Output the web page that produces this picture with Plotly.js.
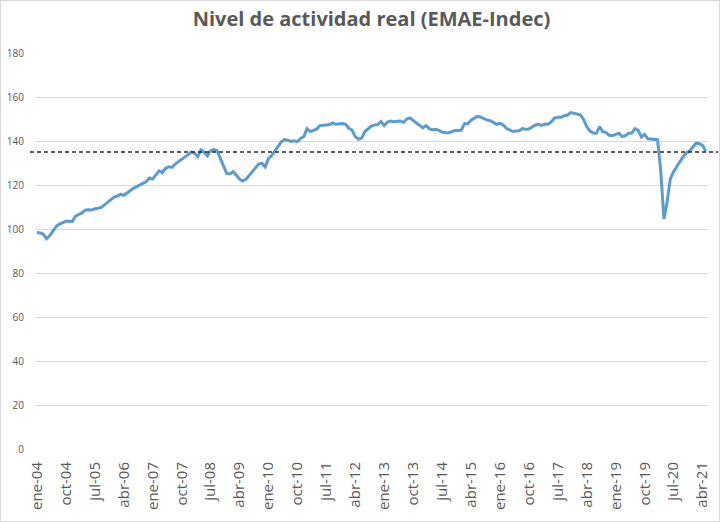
<!DOCTYPE html>
<html>
<head>
<meta charset="utf-8">
<script src="https://cdn.plot.ly/plotly-3.0.1.min.js"></script>
<style>
  html, body { margin: 0; padding: 0; background: #fff; }
  #wrap { position: relative; width: 720px; height: 522px; }
  #chart { width: 720px; height: 522px; }
  #frame { position: absolute; left: 0; top: 0; width: 720px; height: 522px; box-sizing: border-box; border: 1px solid #d9d9d9; pointer-events: none; }
</style>
</head>
<body>
<div id="wrap"><div id="chart"></div><div id="frame"></div></div>
<script>
// Month names (Spanish) and years covered
const monthNames = ['ene','feb','mar','abr','may','jun','jul','ago','sep','oct','nov','dic'];
const years = ['04','05','06','07','08','09','10','11','12','13','14','15','16','17','18','19','20','21'];

// EMAE (monthly, ene-04 .. may-21)
const emae = [
  98.4, 98.2, 97.6, 95.6, 97.0, 99.0, 101.2, 102.2, 102.8, 103.5, 103.5, 103.4,
  105.8, 106.4, 107.3, 108.6, 108.8, 108.6, 109.2, 109.4, 109.8, 111.0, 112.3, 113.6,
  114.5, 115.0, 115.8, 115.3, 116.2, 117.4, 118.5, 119.3, 120.2, 121.0, 121.6, 123.2,
  122.7, 124.6, 126.4, 125.6, 127.6, 128.3, 128.0, 129.5, 130.5, 131.5, 132.6, 133.8,
  135.0, 134.4, 132.9, 135.9, 134.9, 133.3, 135.6, 136.1, 135.7, 132.1, 129.3, 125.3,
  125.0, 126.0, 124.5, 122.7, 121.8, 122.6, 124.3, 126.0, 128.2, 129.6, 129.8, 128.2,
  132.0, 133.4, 135.5, 137.7, 139.6, 140.6, 140.4, 139.8, 140.1, 139.7, 141.2, 142.0,
  145.6, 144.3, 144.8, 145.4, 147.0, 147.3, 147.3, 147.5, 148.2, 147.6, 147.8, 147.9,
  147.6, 145.8, 145.0, 142.0, 140.8, 141.3, 144.3, 145.7, 146.8, 147.3, 147.5, 148.9,
  147.0, 148.6, 149.1, 148.8, 148.8, 149.1, 148.4, 150.0, 150.5, 149.2, 148.2, 147.2,
  146.0, 147.0, 145.6, 145.1, 145.3, 144.8, 144.1, 143.8, 143.8, 144.2, 144.8, 144.8,
  145.0, 147.9, 147.8, 149.5, 150.5, 151.2, 150.8, 150.0, 149.5, 149.2, 148.5, 147.6,
  148.0, 147.3, 145.8, 145.0, 144.3, 144.6, 144.7, 145.7, 145.3, 145.4, 146.5, 147.3,
  147.6, 147.1, 147.7, 147.6, 148.8, 150.5, 150.8, 150.8, 151.5, 151.8, 152.9, 152.6,
  152.3, 151.9, 149.8, 146.5, 144.5, 143.6, 143.5, 146.5, 144.2, 143.8, 142.6, 142.4,
  143.0, 143.5, 142.0, 142.4, 143.5, 143.6, 145.7, 144.8, 141.8, 143.0, 141.0, 140.9,
  140.9, 140.6, 126.5, 104.5, 112.5, 123.0, 126.0, 128.3, 130.8, 133.0, 134.6, 135.5,
  137.3, 139.0, 138.8, 138.0, 135.3
];

// Reference level (dashed line)
const referenceLevel = 135;

// Tick labels shown on the x axis
const tickLabels = ['ene-04','oct-04','jul-05','abr-06','ene-07','oct-07','jul-08','abr-09',
  'ene-10','oct-10','jul-11','abr-12','ene-13','oct-13','jul-14','abr-15','ene-16','oct-16',
  'jul-17','abr-18','ene-19','oct-19','jul-20','abr-21'];

// Build category list (one per month, matching emae length)
const categories = [];
for (const y of years) {
  for (const m of monthNames) {
    if (categories.length < emae.length) categories.push(m + '-' + y);
  }
}

const trace = {
  type: 'scatter',
  mode: 'lines',
  x: categories,
  y: emae,
  line: { color: '#5b9bd5', width: 3 },
  hoverinfo: 'x+y',
  showlegend: false
};

const layout = {
  width: 720,
  height: 522,
  margin: { l: 35, r: 12, t: 53, b: 73 },
  paper_bgcolor: '#ffffff',
  plot_bgcolor: '#ffffff',
  title: {
    text: 'Nivel de actividad real (EMAE-Indec)',
    font: { family: '"Open Sans", sans-serif', size: 20, color: '#595959', weight: 'bold' },
    x: 0.5, xanchor: 'center', xref: 'paper',
    y: 1, yref: 'container', yanchor: 'top', pad: { t: 12 }
  },
  xaxis: {
    type: 'category',
    range: [-0.6, 208.7],
    tickmode: 'array',
    tickvals: tickLabels,
    ticktext: tickLabels,
    tickangle: -90,
    tickfont: { family: '"Open Sans", sans-serif', size: 15, color: '#595959' },
    showgrid: false,
    zeroline: false,
    showline: false,
    ticks: '',
    ticklabelstandoff: 9
  },
  yaxis: {
    range: [0, 180],
    tickvals: [0, 20, 40, 60, 80, 100, 120, 140, 160, 180],
    tickfont: { family: '"Open Sans", sans-serif', size: 10, color: '#595959' },
    showgrid: true,
    gridcolor: '#d9d9d9',
    gridwidth: 1,
    zeroline: false,
    showline: false,
    ticks: '',
    ticklabelstandoff: 10
  },
  shapes: [
    {
      type: 'line', xref: 'paper', yref: 'y',
      x0: -0.0074, x1: 1.015, y0: referenceLevel, y1: referenceLevel,
      line: { color: '#262626', width: 1.3, dash: '4px,3px' }
    }
  ]
};

Plotly.newPlot('chart', [trace], layout, { displayModeBar: false, staticPlot: true });
</script>
</body>
</html>
